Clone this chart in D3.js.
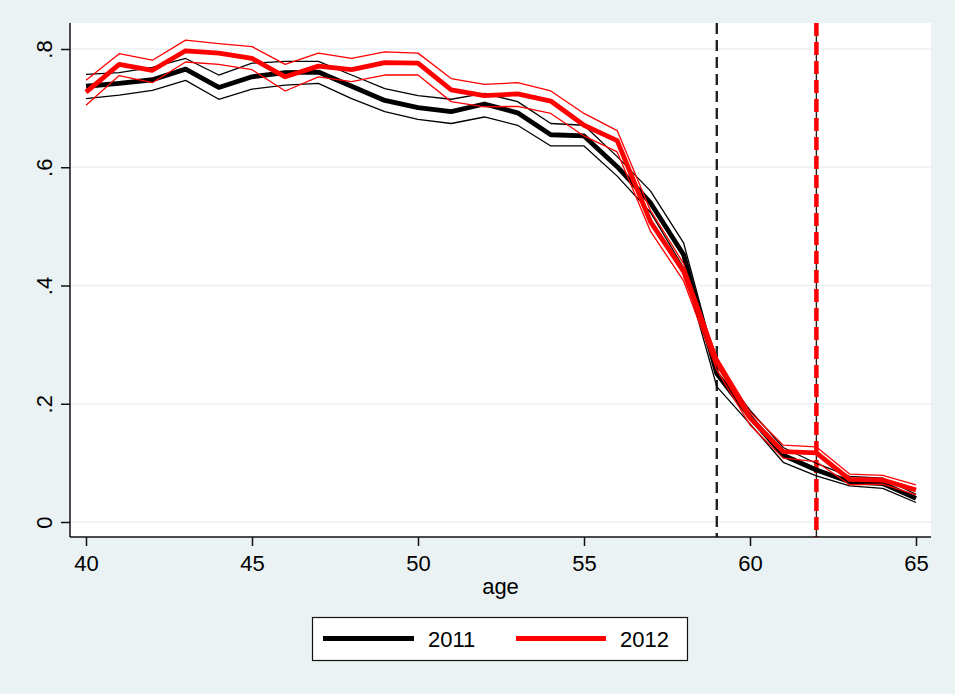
<!DOCTYPE html>
<html>
<head>
<meta charset="utf-8">
<script src="https://cdn.jsdelivr.net/npm/d3@7"></script>
<style>
  html, body { margin: 0; padding: 0; background: #eaf2f3; }
  svg { display: block; }
  text { font-family: "Liberation Sans", Arial, Helvetica, sans-serif; }
</style>
</head>
<body>
<svg id="chart" width="955" height="694"></svg>
<script>
// ---- Data ----
const ages = [40,41,42,43,44,45,46,47,48,49,50,51,52,53,54,55,56,57,58,59,60,61,62,63,64,65];

const y2011 = [0.737,0.742,0.748,0.766,0.735,0.753,0.760,0.761,0.737,0.713,0.701,0.694,0.707,0.692,0.655,0.653,0.601,0.540,0.452,0.251,0.178,0.113,0.088,0.068,0.065,0.040];
const hi2011 = [0.757,0.760,0.769,0.784,0.756,0.776,0.779,0.779,0.756,0.733,0.721,0.715,0.725,0.711,0.674,0.671,0.618,0.560,0.472,0.263,0.189,0.126,0.099,0.077,0.074,0.047];
const lo2011 = [0.716,0.722,0.730,0.747,0.715,0.732,0.739,0.742,0.716,0.694,0.681,0.674,0.685,0.671,0.636,0.636,0.585,0.524,0.430,0.229,0.166,0.101,0.078,0.061,0.057,0.033];

const y2012 = [0.727,0.774,0.764,0.797,0.793,0.784,0.753,0.771,0.765,0.777,0.776,0.731,0.721,0.724,0.712,0.671,0.645,0.508,0.424,0.271,0.176,0.119,0.117,0.072,0.071,0.054];
const hi2012 = [0.747,0.792,0.781,0.815,0.809,0.804,0.774,0.793,0.784,0.795,0.793,0.750,0.740,0.743,0.729,0.691,0.662,0.527,0.437,0.279,0.186,0.130,0.127,0.081,0.079,0.063];
const lo2012 = [0.705,0.755,0.743,0.778,0.774,0.765,0.729,0.753,0.745,0.756,0.756,0.711,0.702,0.703,0.691,0.653,0.626,0.492,0.408,0.257,0.164,0.108,0.102,0.063,0.064,0.046];

const xTicks = [40,45,50,55,60,65];
const yTicks = [0,0.2,0.4,0.6,0.8];
const yTickLabels = ["0",".2",".4",".6",".8"];
const cutoffs = [59, 62];
const legendLabels = ["2011","2012"];
const seriesColors = ["#000000","#ff0000"];

// ---- Layout ----
const svg = d3.select("#chart");
const plot = {left: 70, right: 931, top: 23, bottom: 537};
const x = d3.scaleLinear().domain([40,65]).range([86,916]);
const y = d3.scaleLinear().domain([0,0.8]).range([522,49]);
const bg = "#eaf2f3";

svg.append("rect").attr("width",955).attr("height",694).attr("fill",bg);
svg.append("rect").attr("x",plot.left).attr("y",plot.top)
  .attr("width",plot.right-plot.left).attr("height",plot.bottom-plot.top).attr("fill","#fff");

// grid
svg.append("g").selectAll("line").data(yTicks).join("line")
  .attr("x1",plot.left).attr("x2",plot.right)
  .attr("y1",d=>y(d)).attr("y2",d=>y(d))
  .attr("stroke",bg).attr("stroke-width",1.6);

// cutoff lines
svg.append("line").attr("x1",x(cutoffs[0])).attr("x2",x(cutoffs[0]))
  .attr("y1",plot.top).attr("y2",plot.bottom)
  .attr("stroke","#222").attr("stroke-width",2.4).attr("stroke-dasharray","11,6");
svg.append("line").attr("x1",x(cutoffs[1])).attr("x2",x(cutoffs[1]))
  .attr("y1",plot.top).attr("y2",plot.bottom)
  .attr("stroke","#222").attr("stroke-width",1.4);
svg.append("line").attr("x1",x(cutoffs[1])).attr("x2",x(cutoffs[1]))
  .attr("y1",plot.top).attr("y2",plot.bottom)
  .attr("stroke","#ff0000").attr("stroke-width",4.5).attr("stroke-dasharray","13,6");

// lines
const line = d3.line().x((d,i)=>x(ages[i])).y(d=>y(d));
function drawLine(vals, color, w) {
  svg.append("path").datum(vals).attr("d",line)
    .attr("fill","none").attr("stroke",color).attr("stroke-width",w)
    .attr("stroke-linejoin","round");
}
drawLine(hi2011, "#000", 1.3);
drawLine(lo2011, "#000", 1.3);
drawLine(y2011, "#000", 4.8);
drawLine(hi2012, "#ff0000", 1.3);
drawLine(lo2012, "#ff0000", 1.3);
drawLine(y2012, "#ff0000", 4.8);

// axes
const yAxis = svg.append("g").attr("transform",`translate(${plot.left},0)`)
  .call(d3.axisLeft(y).tickValues(yTicks).tickSize(9).tickFormat((d,i)=>yTickLabels[i]));
yAxis.select(".domain").attr("d",`M0,${plot.top}V${plot.bottom}`).attr("stroke","#111").attr("stroke-width",1.5);
yAxis.selectAll(".tick line").attr("stroke","#111").attr("stroke-width",1.5);
yAxis.selectAll(".tick text")
  .attr("font-size",22).attr("fill","#000")
  .attr("text-anchor","middle")
  .attr("x",0).attr("dy",0)
  .attr("transform","translate(-18,0) rotate(-90)")
  .attr("y",0);

const xAxis = svg.append("g").attr("transform",`translate(0,${plot.bottom})`)
  .call(d3.axisBottom(x).tickValues(xTicks).tickSize(9).tickFormat(d3.format("d")));
xAxis.select(".domain").attr("d",`M${plot.left},0H${plot.right}`).attr("stroke","#111").attr("stroke-width",1.5);
xAxis.selectAll(".tick line").attr("stroke","#111").attr("stroke-width",1.5);
xAxis.selectAll(".tick text").attr("font-size",22).attr("fill","#000").attr("y",34).attr("dy",0);

svg.append("text").attr("x",(plot.left+plot.right)/2).attr("y",594)
  .attr("text-anchor","middle").attr("font-size",22).attr("fill","#000").text("age");

// legend
const lg = svg.append("g");
lg.append("rect").attr("x",312.5).attr("y",617.5).attr("width",375).attr("height",43)
  .attr("fill","#fff").attr("stroke","#111").attr("stroke-width",1.2);
const legendX = [[323,414,428],[516,606,620]];
legendLabels.forEach((lab,i)=>{
  lg.append("line").attr("x1",legendX[i][0]).attr("x2",legendX[i][1])
    .attr("y1",638.5).attr("y2",638.5)
    .attr("stroke",seriesColors[i]).attr("stroke-width",5);
  lg.append("text").attr("x",legendX[i][2]).attr("y",647)
    .attr("font-size",22).attr("fill","#000").text(lab);
});
</script>
</body>
</html>
